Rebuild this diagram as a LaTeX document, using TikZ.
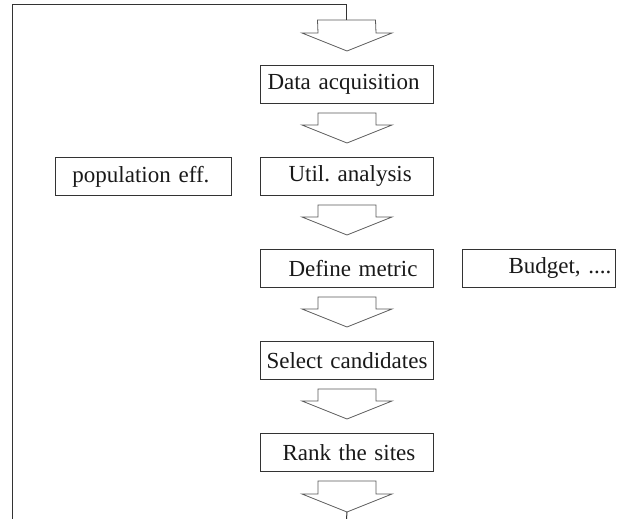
\documentclass[tikz,border=0pt]{standalone}
\usepackage{fontspec}
\setmainfont{Liberation Serif}
\usetikzlibrary{calc}
\frenchspacing
\tikzset{
  box/.style={draw=black!80, line width=1pt, rectangle, inner xsep=0pt, inner ysep=0pt,
    text width=#1, minimum height=38pt, align=left, anchor=north west,
    font=\fontsize{23}{27}\selectfont, text=black!90},
  box/.default=173pt,
  arr/.style={draw=black!65, line width=0.8pt, line join=miter},
  loopline/.style={draw=black!80, line width=1pt}
}
\newcommand{\flowarrow}[2]{%
  \draw[arr] ($(#1)+(-29,0)$) -- ($(#2)+(-29,-18)$) -- ($(#2)+(-45,-18)$) -- (#2)
    -- ($(#2)+(45,-18)$) -- ($(#2)+(29,-18)$) -- ($(#1)+(29,0)$) -- cycle;}
\begin{document}
\begin{tikzpicture}[x=1pt, y=-1pt]
\useasboundingbox (0,0) rectangle (625,519);
% boxes
\node[box] (data) at (260,65) {\hspace*{7pt}Data acquisition};
\node[box] (util) at (260,157) {\hspace*{28pt}Util. analysis};
\node[box=176pt] (pop) at (55,157) {\hspace*{17pt}population eff.};
\node[box] (metric) at (260,249) {\hspace*{28pt}Define metric};
\node[box=153pt] (budget) at (462,249) {\hspace*{46pt}Budget, ....};
\node[box] (select) at (260,341) {\hspace*{6pt}Select candidates};
\node[box] (rank) at (260,433) {\hspace*{22pt}Rank the sites};
% arrow coordinates
\coordinate (a1s) at (346.5,20);
\path ($(data.north)+(0,-14)$) coordinate (a1t);
\path ($(data.south)+(0,9)$) coordinate (a2s) ($(util.north)+(0,-14)$) coordinate (a2t);
\path ($(util.south)+(0,9)$) coordinate (a3s) ($(metric.north)+(0,-14)$) coordinate (a3t);
\path ($(metric.south)+(0,9)$) coordinate (a4s) ($(select.north)+(0,-14)$) coordinate (a4t);
\path ($(select.south)+(0,9)$) coordinate (a5s) ($(rank.north)+(0,-14)$) coordinate (a5t);
\path ($(rank.south)+(0,9)$) coordinate (a6s) ($(rank.south)+(0,40)$) coordinate (a6t);
\flowarrow{a1s}{a1t}
\flowarrow{a2s}{a2t}
\flowarrow{a3s}{a3t}
\flowarrow{a4s}{a4t}
\flowarrow{a5s}{a5t}
\flowarrow{a6s}{a6t}
% feedback loop
\coordinate (bot) at (346.5,519);
\coordinate (lb) at (12,519);
\coordinate (lt) at (12,5);
\coordinate (rt) at (346.5,5);
\draw[loopline] (a6t) -- (bot);
\draw[loopline] (lb) -- (lt) -- (rt) -- (a1s);
\end{tikzpicture}
\end{document}
